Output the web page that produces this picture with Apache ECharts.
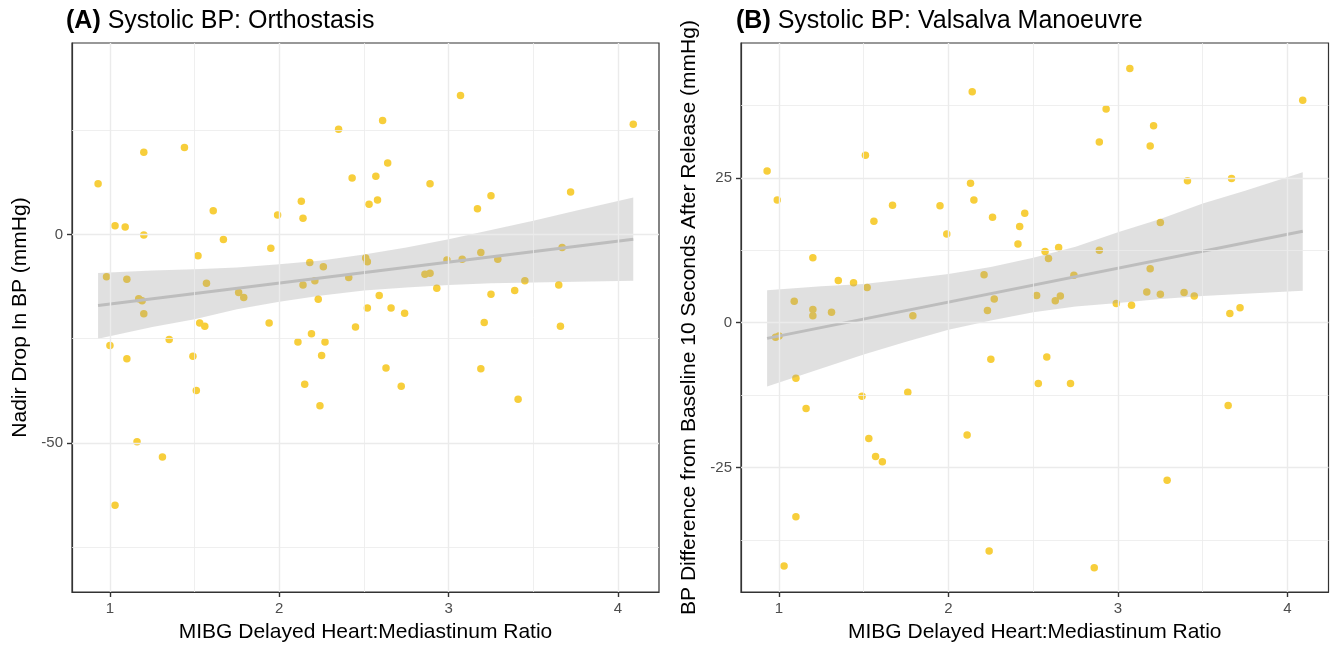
<!DOCTYPE html>
<html>
<head>
<meta charset="utf-8">
<script src="https://cdn.jsdelivr.net/npm/echarts@6/dist/echarts.min.js"></script>
<style>
html,body{margin:0;padding:0;background:#fff;}
#chart{width:1330px;height:648px;}
</style>
</head>
<body>
<div id="chart"></div>
<script>
// ---------- data ----------
const xTicks = [1, 2, 3, 4];
const xMinor = [1.5, 2.5, 3.5];
const orthoYTicks = [-50, 0];
const orthoYMinor = [25, -25, -75];
const valsYTicks = [-25, 0, 25];
const valsYMinor = [37.5, 12.5, -12.5, -37.5];

// Panel A: Orthostasis (x = MIBG H:M ratio, y = nadir drop)
const orthoX = [0.93,1.20,1.44,1.03,1.09,1.20,1.61,1.67,1.52,1.95,1.99,2.13,2.14,2.35,2.61,2.43,2.57,2.64,2.53,2.58,
  3.07,4.09,2.89,3.25,3.17,3.72,3.67,3.19,3.29,3.08,2.99,2.86,2.89,0.98,1.10,1.17,1.19,1.20,1.57,1.76,
  1.79,2.18,2.26,2.14,2.21,2.23,2.41,2.51,2.52,2.59,2.52,2.66,2.74,1.53,1.56,1.94,2.45,2.93,3.25,3.39,
  3.45,3.65,3.21,3.66,1.00,1.10,1.35,1.49,1.51,2.11,2.19,2.27,2.25,2.15,2.24,2.63,1.16,1.31,1.03,2.72,
  3.19,3.41];
const orthoY = [12.2,19.8,20.9,2.1,1.8,-0.1,5.7,-1.2,-5.1,-3.3,4.7,8.0,3.9,25.3,27.4,13.6,14.0,17.2,7.3,8.3,
  33.4,26.5,12.2,9.3,6.2,10.2,-3.1,-4.3,-5.9,-5.9,-6.1,-9.5,-9.3,-10.1,-10.7,-15.4,-15.9,-19.0,-11.7,-13.9,
  -15.1,-6.7,-7.7,-12.1,-11.1,-15.5,-10.3,-5.6,-6.5,-14.6,-17.6,-17.6,-18.9,-21.2,-22.0,-21.2,-22.2,-12.9,-14.3,-13.4,
  -11.1,-12.1,-21.1,-22.0,-26.6,-29.8,-25.2,-29.2,-37.4,-25.8,-23.8,-25.8,-29.0,-35.9,-41.1,-32.0,-49.7,-53.4,-65.0,-36.4,
  -32.2,-39.5];
// fitted line & confidence band
const orthoFitX = [0.93, 4.09];
const orthoFitY = [-17.0, -1.1];
const orthoBandX  = [0.93, 1.25, 1.5, 1.75, 2.0, 2.25, 2.5, 2.75, 3.0, 3.25, 3.5, 3.75, 4.09];
const orthoBandHi = [-9.2, -8.6, -8.3, -7.9, -7.1, -6.2, -4.8, -3.1, -1.1, 1.1, 3.3, 5.7, 8.9];
const orthoBandLo = [-25.0, -22.2, -20.3, -17.9, -16.1, -14.6, -13.4, -12.7, -12.1, -11.7, -11.5, -11.3, -11.1];

// Panel B: Valsalva
const valsX = [0.93,0.99,1.51,2.14,2.13,2.15,1.56,1.67,1.95,1.99,2.26,2.42,2.41,1.20,1.35,1.44,1.52,2.21,1.09,1.20,
  1.20,1.31,1.79,2.27,2.23,3.07,4.09,2.93,3.21,2.89,3.19,3.41,3.67,2.45,3.25,2.57,2.65,2.59,2.89,3.19,
  2.74,2.52,2.63,2.66,3.17,3.25,3.39,3.45,2.99,3.08,3.66,3.72,0.98,1.00,1.10,1.16,1.49,1.76,2.25,1.53,
  1.57,1.61,2.11,1.10,1.03,2.24,2.58,2.53,2.72,3.65,3.29,2.86];
const valsY = [26.2,21.2,28.9,39.9,24.1,21.2,17.5,20.3,20.2,15.3,18.2,16.6,13.6,11.2,7.3,6.9,6.1,8.3,3.7,2.3,
  1.2,1.8,1.2,4.1,2.1,43.9,38.4,36.9,34.0,31.2,30.5,24.5,24.9,18.9,17.3,12.3,13.0,11.1,12.5,9.3,
  8.2,4.7,3.8,4.6,5.3,4.9,5.2,4.6,3.3,3.0,1.6,2.6,-2.5,-2.3,-9.6,-14.8,-12.7,-12.0,-6.3,-20.0,
  -23.1,-24.0,-19.4,-33.5,-42.0,-39.4,-5.9,-10.5,-10.5,-14.3,-27.2,-42.3];
const valsFitX = [0.93, 4.09];
const valsFitY = [-2.7, 15.8];
const valsBandX  = [0.93, 1.25, 1.5, 1.75, 2.0, 2.25, 2.5, 2.75, 3.0, 3.25, 3.5, 3.75, 4.09];
const valsBandHi = [5.6, 6.3, 6.7, 7.5, 8.4, 9.6, 11.2, 13.1, 15.6, 17.9, 20.6, 22.8, 26.0];
const valsBandLo = [-11.0, -7.9, -5.5, -3.3, -1.2, 0.4, 1.8, 2.8, 3.4, 4.1, 4.6, 5.0, 5.5];

// ---------- styling ----------
const FONT = '"Liberation Sans", Arial, Helvetica, sans-serif';
const POINT = '#F7CE3B';
const GRIDC = '#EBEBEB';

function zip(a, b) { return a.map((v, i) => [v, b[i]]); }

function gridLines(idx, yMajor, yMinor) {
  const data = [];
  xTicks.forEach(v => data.push({ xAxis: v, lineStyle: { color: GRIDC, width: 1.4, type: 'solid' } }));
  xMinor.forEach(v => data.push({ xAxis: v, lineStyle: { color: GRIDC, width: 0.8, type: 'solid' } }));
  yMajor.forEach(v => data.push({ yAxis: v, lineStyle: { color: GRIDC, width: 1.4, type: 'solid' } }));
  yMinor.forEach(v => data.push({ yAxis: v, lineStyle: { color: GRIDC, width: 0.8, type: 'solid' } }));
  return {
    type: 'line', xAxisIndex: idx, yAxisIndex: idx, data: [], z: 1, silent: true,
    markLine: { silent: true, symbol: ['none', 'none'], label: { show: false }, animation: false, data: data }
  };
}

function ribbon(idx, bx, hi, lo) {
  return {
    type: 'custom', xAxisIndex: idx, yAxisIndex: idx, z: 3, silent: true,
    data: bx.map((x, i) => [x, lo[i], hi[i]]),
    encode: { x: 0, y: [1, 2] },
    renderItem: function (params, api) {
      if (params.dataIndex !== 0) return null;
      const pts = [];
      for (let i = 0; i < bx.length; i++) pts.push(api.coord([bx[i], hi[i]]));
      for (let i = bx.length - 1; i >= 0; i--) pts.push(api.coord([bx[i], lo[i]]));
      return { type: 'polygon', shape: { points: pts, smooth: 0 }, style: { fill: 'rgba(153,153,153,0.30)', stroke: null } };
    }
  };
}

function xAxisDef(idx) {
  return {
    type: 'value', gridIndex: idx, min: 0.776, max: 4.242,
    name: 'MIBG Delayed Heart:Mediastinum Ratio', nameLocation: 'middle', nameGap: 30,
    nameTextStyle: { fontFamily: FONT, fontSize: 21, color: '#000' },
    axisLine: { show: true, onZero: false, lineStyle: { color: '#333', width: 1.2 } },
    axisTick: { show: true, inside: false, length: 5, customValues: xTicks, lineStyle: { color: '#333', width: 1.4 } },
    axisLabel: { customValues: xTicks, margin: 9, fontFamily: FONT, fontSize: 15, color: '#4D4D4D' },
    splitLine: { show: false }
  };
}

function yAxisDef(idx, min, max, ticks, name) {
  return {
    type: 'value', gridIndex: idx, min: min, max: max,
    name: name, nameLocation: 'middle', nameGap: 41,
    nameTextStyle: { fontFamily: FONT, fontSize: 21, color: '#000' },
    axisLine: { show: true, onZero: false, lineStyle: { color: '#333', width: 1.2 } },
    axisTick: { show: true, inside: false, length: 5, customValues: ticks, lineStyle: { color: '#333', width: 1.4 } },
    axisLabel: { customValues: ticks, margin: 9, fontFamily: FONT, fontSize: 15, color: '#4D4D4D' },
    splitLine: { show: false }
  };
}

function titleDef(tag, text, left) {
  return {
    text: '{b|' + tag + '}{n| ' + text + '}', left: left, top: 4,
    textStyle: {
      fontWeight: 'normal',
      rich: {
        b: { fontFamily: FONT, fontWeight: 'bold', fontSize: 25, color: '#000' },
        n: { fontFamily: FONT, fontWeight: 'normal', fontSize: 25, color: '#000' }
      }
    }
  };
}

const chart = echarts.init(document.getElementById('chart'), null, { renderer: 'canvas' });
chart.setOption({
  animation: false,
  backgroundColor: '#fff',
  title: [
    titleDef('(A)', 'Systolic BP: Orthostasis', 61),
    titleDef('(B)', 'Systolic BP: Valsalva Manoeuvre', 731)
  ],
  grid: [
    { left: 72, top: 43, width: 587, height: 553, show: true, borderColor: '#333', borderWidth: 1.2, backgroundColor: '#fff' },
    { left: 741, top: 43, width: 587.5, height: 553, show: true, borderColor: '#333', borderWidth: 1.2, backgroundColor: '#fff' }
  ],
  xAxis: [xAxisDef(0), xAxisDef(1)],
  yAxis: [
    yAxisDef(0, -85.8, 46.0, orthoYTicks, 'Nadir Drop In BP (mmHg)'),
    yAxisDef(1, -46.5, 48.3, valsYTicks, 'BP Difference from Baseline 10 Seconds After Release (mmHg)')
  ],
  series: [
    gridLines(0, orthoYTicks, orthoYMinor),
    gridLines(1, valsYTicks, valsYMinor),
    { type: 'scatter', xAxisIndex: 0, yAxisIndex: 0, z: 2, symbolSize: 7.5, data: zip(orthoX, orthoY),
      itemStyle: { color: POINT, opacity: 1 } },
    { type: 'scatter', xAxisIndex: 1, yAxisIndex: 1, z: 2, symbolSize: 7.5, data: zip(valsX, valsY),
      itemStyle: { color: POINT, opacity: 1 } },
    ribbon(0, orthoBandX, orthoBandHi, orthoBandLo),
    ribbon(1, valsBandX, valsBandHi, valsBandLo),
    { type: 'line', xAxisIndex: 0, yAxisIndex: 0, z: 4, data: zip(orthoFitX, orthoFitY), symbol: 'none',
      lineStyle: { color: '#BDBDBD', width: 3 } },
    { type: 'line', xAxisIndex: 1, yAxisIndex: 1, z: 4, data: zip(valsFitX, valsFitY), symbol: 'none',
      lineStyle: { color: '#BDBDBD', width: 3 } }
  ]
});
</script>
</body>
</html>
